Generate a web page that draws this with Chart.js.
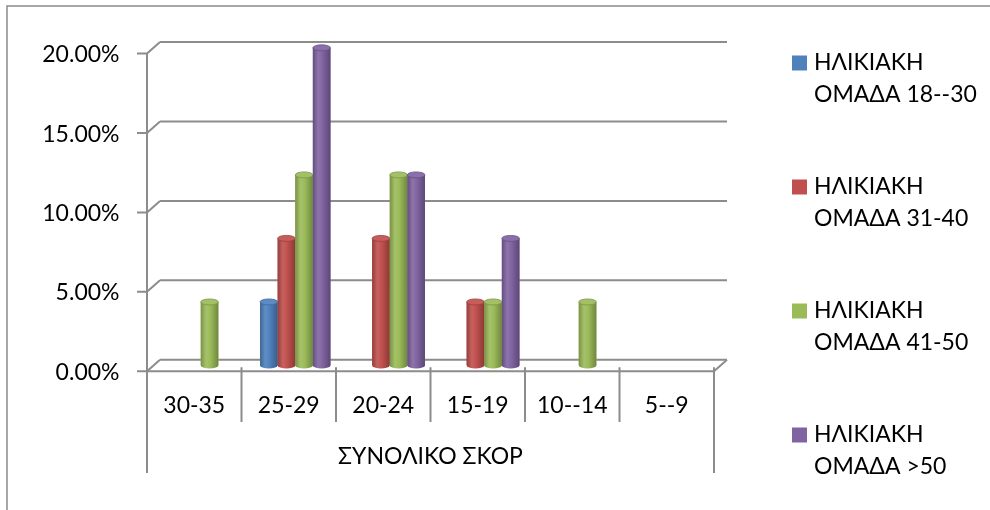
<!DOCTYPE html>
<html>
<head>
<meta charset="utf-8">
<script src="https://cdn.jsdelivr.net/npm/chart.js@4/dist/chart.umd.min.js"></script>
<style>
  html, body { margin: 0; padding: 0; background: #ffffff; }
  #wrap { position: relative; width: 990px; height: 510px; }
</style>
</head>
<body>
<div id="wrap"><canvas id="c" width="990" height="510"></canvas></div>
<script>
// Score bands (x axis) and share of each age group, in percent
const categories = ['30-35', '25-29', '20-24', '15-19', '10--14', '5--9'];
const group18to30 = [0, 4, 0, 0, 0, 0];
const group31to40 = [0, 8, 8, 4, 0, 0];
const group41to50 = [4, 12, 12, 4, 4, 0];
const group50plus = [0, 20, 12, 8, 0, 0];
const seriesLabels = [
  'ΗΛΙΚΙΑΚΗ ΟΜΑΔΑ 18--30',
  'ΗΛΙΚΙΑΚΗ ΟΜΑΔΑ 31-40',
  'ΗΛΙΚΙΑΚΗ ΟΜΑΔΑ 41-50',
  'ΗΛΙΚΙΑΚΗ ΟΜΑΔΑ >50'
];
const axisTitle = 'ΣΥΝΟΛΙΚΟ ΣΚΟΡ';
const yMax = 20;
const yStep = 5;

const colors = ['#4F81BD', '#C0504D', '#9BBB59', '#8064A2'];
const FONT = 'Lato, "Open Sans", "Noto Sans", sans-serif';
const FSIZE = 23;
const LINE = '#8c8c8c';
// depth offset of the 3D box: front = mid - (DX, -DY), back = mid + (DX, -DY)
const DX = 6.5, DY = 5.75;

function shade(hex, f) {
  const n = parseInt(hex.slice(1), 16);
  let r = (n >> 16) & 255, g = (n >> 8) & 255, b = n & 255;
  const m = v => f >= 1 ? Math.round(v + (255 - v) * (f - 1)) : Math.round(v * f);
  return 'rgb(' + m(r) + ',' + m(g) + ',' + m(b) + ')';
}

const framePlugin = {
  id: 'frame3d',
  beforeDatasetsDraw(chart) {
    const { ctx, chartArea: a, scales } = chart;
    const y = scales.y;
    ctx.save();
    ctx.strokeStyle = LINE;
    ctx.lineWidth = 2;
    ctx.lineCap = 'butt';
    const frontL = a.left - DX, frontR = a.right - DX;
    const backL = a.left + DX, backR = a.right + DX;
    // back wall gridlines + side wall slants + front tick marks
    for (let v = 0; v <= yMax; v += yStep) {
      const ym = y.getPixelForValue(v);
      ctx.beginPath();
      ctx.moveTo(backL, ym - DY); ctx.lineTo(backR, ym - DY);
      ctx.moveTo(frontL, ym + DY); ctx.lineTo(backL, ym - DY);
      ctx.moveTo(frontL - 10, ym + DY); ctx.lineTo(frontL, ym + DY);
      ctx.stroke();
    }
    const y0 = y.getPixelForValue(0);
    const yTop = y.getPixelForValue(yMax);
    const boxBottom = 473;
    const catW = (frontR - frontL) / categories.length;
    ctx.beginPath();
    // front vertical axis, running down the category box
    ctx.moveTo(frontL, yTop + DY); ctx.lineTo(frontL, boxBottom);
    // front edge of the floor and its right slant
    ctx.moveTo(frontL, y0 + DY); ctx.lineTo(frontR, y0 + DY);
    ctx.lineTo(backR, y0 - DY);
    // category dividers
    for (let k = 1; k <= categories.length; k++) {
      const x = frontL + k * catW;
      ctx.moveTo(x, y0 + DY - 4);
      ctx.lineTo(x, k === categories.length ? boxBottom : 422);
    }
    ctx.stroke();
    ctx.restore();
  },
  afterDatasetsDraw(chart) {
    const { ctx } = chart;
    ctx.save();
    chart.data.datasets.forEach((ds, i) => {
      const meta = chart.getDatasetMeta(i);
      const base = colors[i];
      meta.data.forEach((bar, j) => {
        if (!ds.data[j]) return;
        const { x, y, base: b, width } = bar.getProps(['x', 'y', 'base', 'width'], true);
        const l = x - width / 2, r = x + width / 2, rx = width / 2, ry = 3;
        const g = ctx.createLinearGradient(l, 0, r, 0);
        g.addColorStop(0, shade(base, 0.78));
        g.addColorStop(0.3, shade(base, 1.1));
        g.addColorStop(0.55, base);
        g.addColorStop(1, shade(base, 0.72));
        // cylinder body with rounded bottom
        ctx.fillStyle = g;
        ctx.beginPath();
        ctx.moveTo(l, y);
        ctx.lineTo(l, b);
        ctx.ellipse(x, b, rx, ry, 0, Math.PI, 0, true);
        ctx.lineTo(r, y);
        ctx.closePath();
        ctx.fill();
        // top cap
        ctx.fillStyle = shade(base, 1.08);
        ctx.strokeStyle = shade(base, 0.8);
        ctx.lineWidth = 0.8;
        ctx.beginPath();
        ctx.ellipse(x, y, rx, ry, 0, 0, Math.PI * 2);
        ctx.fill();
        ctx.stroke();
      });
    });
    ctx.restore();
  },
  afterDraw(chart) {
    const { ctx, chartArea: a } = chart;
    ctx.save();
    // outer frame
    ctx.strokeStyle = '#8a8a8a';
    ctx.lineWidth = 1.5;
    ctx.strokeRect(7, 6, 1100, 1100);
    ctx.fillStyle = '#000000';
    ctx.font = FSIZE + 'px ' + FONT;
    ctx.textBaseline = 'middle';
    // axis title under the category labels
    ctx.textAlign = 'center';
    ctx.fillText(axisTitle, (a.left + a.right) / 2 - DX, 457);
    // legend: swatch + two-line label
    ctx.textAlign = 'left';
    const rows = [63, 187, 311, 435];
    chart.data.datasets.forEach((ds, i) => {
      const yy = rows[i];
      ctx.fillStyle = colors[i];
      ctx.fillRect(792, yy - 7.5, 15, 15);
      ctx.fillStyle = '#000000';
      const sp = ds.label.indexOf(' ');
      ctx.fillText(ds.label.slice(0, sp), 814, yy);
      ctx.fillText(ds.label.slice(sp + 1), 814, yy + 32);
    });
    ctx.restore();
  }
};

const seriesData = [group18to30, group31to40, group41to50, group50plus];

new Chart(document.getElementById('c'), {
  type: 'bar',
  data: {
    labels: categories,
    datasets: seriesData.map((d, i) => ({
      label: seriesLabels[i],
      data: d,
      backgroundColor: colors[i],
      borderWidth: 0,
      categoryPercentage: 0.745,
      barPercentage: 1.0
    }))
  },
  options: {
    responsive: false,
    animation: false,
    events: [],
    layout: { padding: { left: 0, top: 45.75, right: 269.5, bottom: 0 } },
    plugins: { legend: { display: false }, tooltip: { enabled: false } },
    scales: {
      x: {
        grid: { display: false, drawTicks: false },
        border: { display: false },
        ticks: {
          color: '#000000',
          font: { family: FONT, size: FSIZE },
          padding: 26,
          labelOffset: -DX,
          maxRotation: 0
        },
        afterFit(scale) { scale.height = 144.5; }
      },
      y: {
        min: 0,
        max: yMax,
        grid: { display: false, drawTicks: false },
        border: { display: false },
        ticks: {
          stepSize: yStep,
          color: '#000000',
          font: { family: FONT, size: FSIZE },
          padding: 34,
          labelOffset: 7,
          callback: v => v.toFixed(2) + '%'
        },
        afterFit(scale) { scale.width = 153.5; }
      }
    }
  },
  plugins: [framePlugin]
});
</script>
</body>
</html>
